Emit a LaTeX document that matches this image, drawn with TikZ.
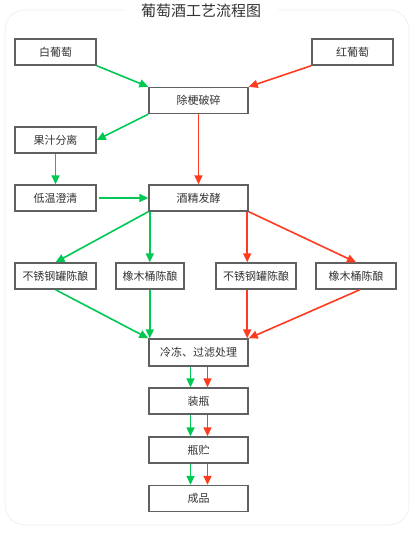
\documentclass[tikz,border=0pt]{standalone}
\usepackage{fontspec}
\setmainfont{Noto Sans CJK SC}
\usetikzlibrary{arrows.meta}
\definecolor{wfGreen}{HTML}{00C853}
\definecolor{wfRed}{HTML}{FF3B1F}
\definecolor{wfEdge}{HTML}{606060}
\definecolor{wfText}{HTML}{333333}
\definecolor{wfFrame}{HTML}{E8EEF4}
\tikzset{
  wf box/.style={draw=wfEdge, line width=1.4pt, fill=white, minimum height=26pt, inner sep=0pt, font=\fontsize{11}{13}\selectfont, text=wfText},
  wf flow/.style={line width=1.6pt, -{Triangle[length=9pt,width=8pt]}},
  wf white/.style={wf flow, draw=wfGreen},
  wf red/.style={wf flow, draw=wfRed},
  wf title/.style={fill=white, inner xsep=17pt, font=\fontsize{15}{17}\selectfont, text=wfText},
}
\begin{document}
\begin{tikzpicture}[x=1pt,y=-1pt]
\useasboundingbox(0,0)rectangle(415,533);
\draw[wfFrame,line width=0.7pt,rounded corners=20pt](5,10)rectangle(409,525);
\node[wf title](title)at(201,11){葡萄酒工艺流程图};
% grapes in, crushing
\node[wf box,minimum width=81pt](wg)at(55.5,52){白葡萄};
\node[wf box,minimum width=81pt](rg)at(352.5,52){红葡萄};
\node[wf box,minimum width=99pt](crush)at(198.5,100.5){除梗破碎};
\node[wf box,minimum width=81pt](juice)at(55.5,140){果汁分离};
\node[wf box,minimum width=81pt](cold)at(55.5,198){低温澄清};
\node[wf box,minimum width=99pt](ferm)at(198.5,198){酒精发酵};
% aging
\node[wf box,minimum width=81pt](ss1)at(55.5,276){不锈钢罐陈酿};
\node[wf box,minimum width=68pt](oak1)at(150,276){橡木桶陈酿};
\node[wf box,minimum width=80pt](ss2)at(256,276){不锈钢罐陈酿};
\node[wf box,minimum width=80pt](oak2)at(356,276){橡木桶陈酿};
% finishing
\node[wf box,minimum width=99pt,minimum height=27pt](freeze)at(198.5,352.5){冷冻、过滤处理};
\node[wf box,minimum width=99pt](bottle)at(198.5,401){装瓶};
\node[wf box,minimum width=99pt](store)at(198.5,450){瓶贮};
\node[wf box,minimum width=99pt](done)at(198.5,498.5){成品};
\coordinate(fl)at([xshift=1.5pt]ferm.south west);
\coordinate(fr)at([xshift=-1.5pt]ferm.south east);
% white wine
\draw[wf white](wg.south east)--(crush.north west);
\draw[wf white](crush.south west)--(juice.east);
\draw[wf white](juice.south)--(cold.north);
\draw[wf white]([xshift=2pt]cold.east)--(ferm.west);
\draw[wf white](ferm.south west)--(ss1.north);
\draw[wf white](fl)--(fl|-oak1.north);
\draw[wf white](ss1.south)--(freeze.north west);
\draw[wf white](fl|-oak1.south)--(fl|-freeze.north);
% red wine
\draw[wf red](rg.south west)--(crush.north east);
\draw[wf red](crush.south)--(ferm.north);
\draw[wf red](fr)--(fr|-ss2.north);
\draw[wf red](ferm.south east)--(oak2.north);
\draw[wf red](fr|-ss2.south)--(fr|-freeze.north);
\draw[wf red]([xshift=4pt]oak2.south)--(freeze.north east);
% both
\foreach \a/\b in {freeze/bottle,bottle/store,store/done}{
  \draw[wf white]([xshift=-8pt]\a.south)--([xshift=-8pt]\b.north);
  \draw[wf red]([xshift=9pt]\a.south)--([xshift=9pt]\b.north);
}
\end{tikzpicture}
\end{document}
